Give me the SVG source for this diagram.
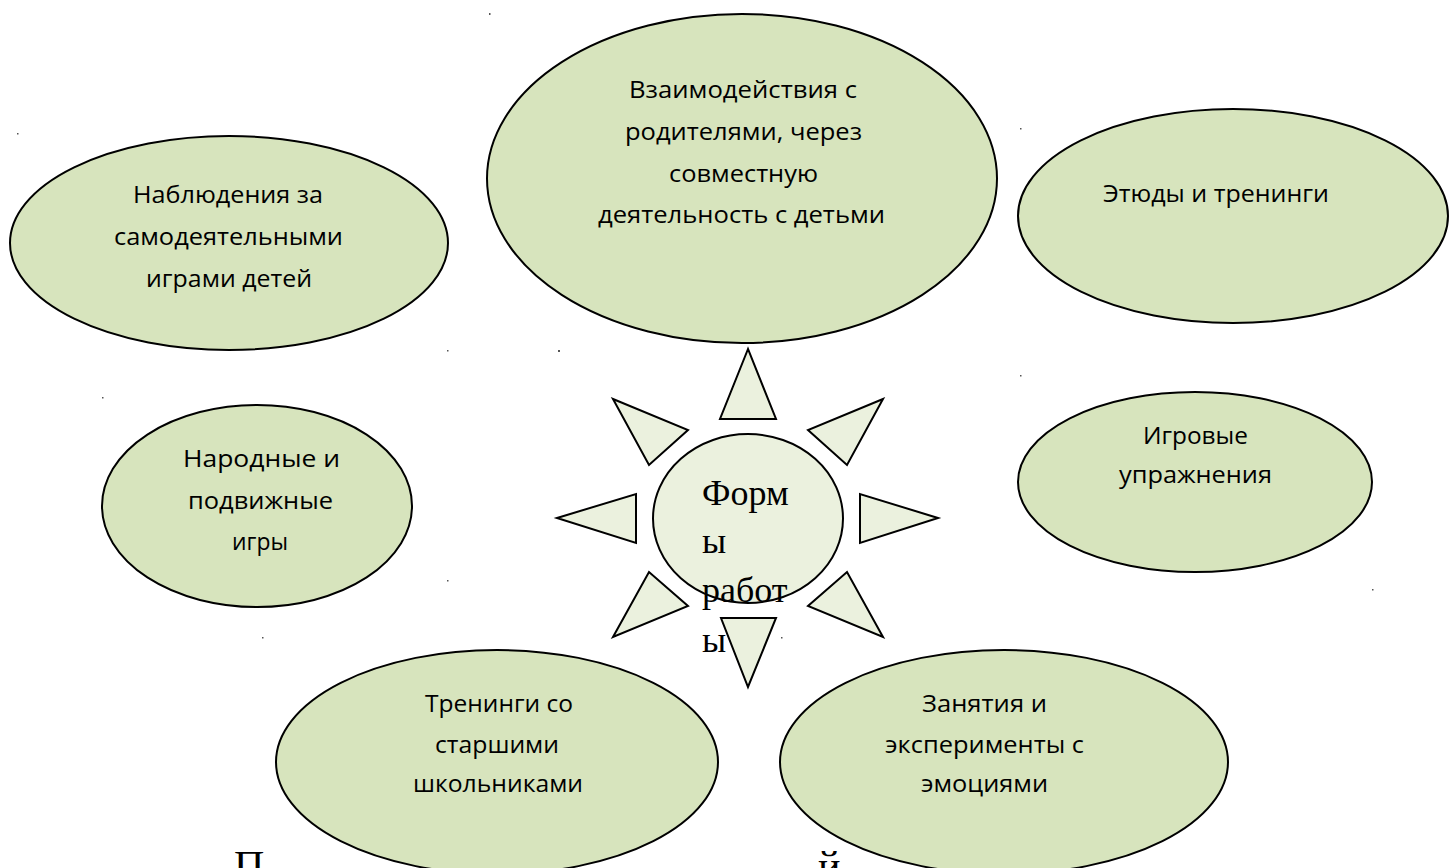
<svg xmlns="http://www.w3.org/2000/svg" width="1449" height="868" viewBox="0 0 1449 868">
<style>
.node{fill:#d7e4bd;stroke:#000;stroke-width:2}
.ray{fill:#ebf1de;stroke:#000;stroke-width:2;stroke-linejoin:miter}
.core{fill:#ebf1de;stroke:#000;stroke-width:2}
.t{font-family:"Open Sans","Noto Sans","Liberation Sans",sans-serif;font-size:23px;fill:#000}
.s{font-family:"Liberation Serif","Times New Roman",serif;font-size:36px;fill:#000}
.big{font-family:"Liberation Serif","Times New Roman",serif;font-size:42px;fill:#000}
.dot{fill:#555}
</style>
<rect width="1449" height="868" fill="#fff"/>
<g id="title-behind">
<text class="big" x="234" y="880">П</text>
<text class="big" x="818" y="880">й</text>
</g>
<g id="specks">
<rect class="dot" x="489" y="13" width="1.5" height="2"/>
<rect class="dot" x="558" y="350" width="2" height="2"/>
<rect class="dot" x="102" y="397" width="1.5" height="1.5"/>
<rect class="dot" x="1372" y="589" width="1.5" height="1.5"/>
<rect class="dot" x="781" y="637" width="1.5" height="1.5"/>
<rect class="dot" x="17" y="133" width="1.5" height="1.5"/>
<rect class="dot" x="1020" y="128" width="1.5" height="1.5"/>
<rect class="dot" x="1020" y="375" width="1.5" height="1.5"/>
<rect class="dot" x="447" y="350" width="1.5" height="1.5"/>
<rect class="dot" x="447" y="580" width="1.5" height="1.5"/>
<rect class="dot" x="262" y="637" width="1.5" height="1.5"/>
</g>
<g id="connectors"></g>
<g id="node-observation">
<ellipse class="node" cx="229" cy="243" rx="219" ry="107"/>
<text class="t" x="133" y="203" textLength="190" lengthAdjust="spacingAndGlyphs">Наблюдения за</text>
<text class="t" x="114" y="245" textLength="229" lengthAdjust="spacingAndGlyphs">самодеятельными</text>
<text class="t" x="146" y="287" textLength="166" lengthAdjust="spacingAndGlyphs">играми детей</text>
</g>
<g id="node-parents">
<ellipse class="node" cx="742" cy="178.5" rx="255" ry="164.5"/>
<text class="t" x="629" y="98" textLength="228" lengthAdjust="spacingAndGlyphs">Взаимодействия с</text>
<text class="t" x="625" y="140" textLength="237" lengthAdjust="spacingAndGlyphs">родителями, через</text>
<text class="t" x="669" y="182" textLength="149" lengthAdjust="spacingAndGlyphs">совместную</text>
<text class="t" x="598" y="223" textLength="287" lengthAdjust="spacingAndGlyphs">деятельность с детьми</text>
</g>
<g id="node-etudes">
<ellipse class="node" cx="1233" cy="216" rx="215" ry="107"/>
<text class="t" x="1103" y="202" textLength="226" lengthAdjust="spacingAndGlyphs">Этюды и тренинги</text>
</g>
<g id="node-folk">
<ellipse class="node" cx="257" cy="506" rx="155" ry="101"/>
<text class="t" x="183" y="467" textLength="157" lengthAdjust="spacingAndGlyphs">Народные  и</text>
<text class="t" x="188" y="509" textLength="145" lengthAdjust="spacingAndGlyphs">подвижные</text>
<text class="t" x="232" y="550" textLength="56" lengthAdjust="spacingAndGlyphs">игры</text>
</g>
<g id="node-exercises">
<ellipse class="node" cx="1195" cy="482" rx="177" ry="90"/>
<text class="t" x="1143" y="444" textLength="105" lengthAdjust="spacingAndGlyphs">Игровые</text>
<text class="t" x="1119" y="483" textLength="153" lengthAdjust="spacingAndGlyphs">упражнения</text>
</g>
<g id="node-trainings">
<ellipse class="node" cx="497" cy="762" rx="221" ry="112"/>
<text class="t" x="425" y="712" textLength="148" lengthAdjust="spacingAndGlyphs">Тренинги со</text>
<text class="t" x="435" y="753" textLength="124" lengthAdjust="spacingAndGlyphs">старшими</text>
<text class="t" x="413" y="792" textLength="170" lengthAdjust="spacingAndGlyphs">школьниками</text>
</g>
<g id="node-emotions">
<ellipse class="node" cx="1004" cy="762" rx="224" ry="112"/>
<text class="t" x="922" y="712" textLength="125" lengthAdjust="spacingAndGlyphs">Занятия  и</text>
<text class="t" x="885" y="753" textLength="199" lengthAdjust="spacingAndGlyphs">эксперименты с</text>
<text class="t" x="921" y="792" textLength="127" lengthAdjust="spacingAndGlyphs">эмоциями</text>
</g>
<g id="node-center">
<polygon class="ray" points="748,349 720,419 776,419"/>
<polygon class="ray" points="613,399 688,430 649,465"/>
<polygon class="ray" points="883,399 808,430 847,465"/>
<polygon class="ray" points="557,518 636,494 636,543"/>
<polygon class="ray" points="938,518 860,494 860,543"/>
<polygon class="ray" points="613,637 649,572 688,606"/>
<polygon class="ray" points="883,637 847,572 808,606"/>
<polygon class="ray" points="721,618 776,618 748,687"/>
<ellipse class="core" cx="748" cy="518.5" rx="95" ry="84.5"/>
<text class="s" x="702" y="505">Форм</text>
<text class="s" x="702" y="553">ы</text>
<text class="s" x="702" y="602">работ</text>
<text class="s" x="702" y="652">ы</text>
</g>
</svg>
